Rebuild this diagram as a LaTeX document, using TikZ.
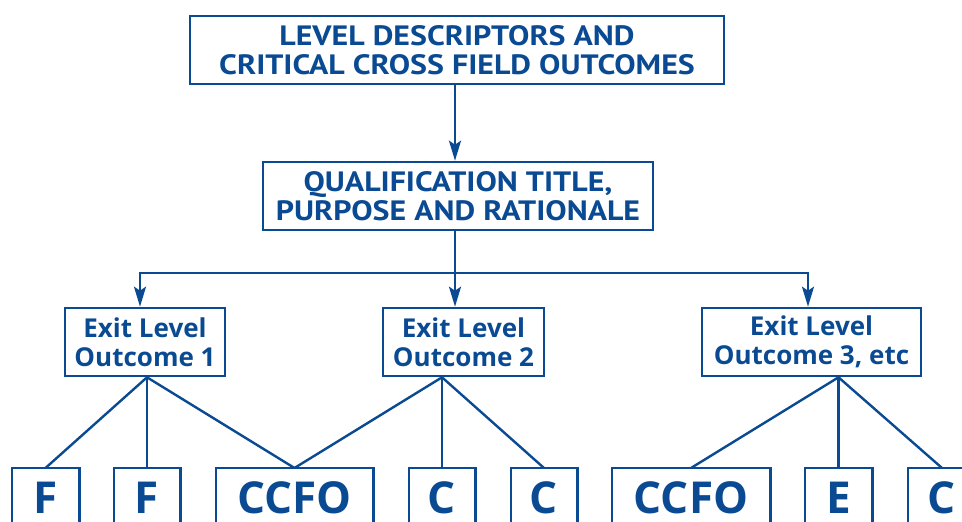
\documentclass[tikz,border=0pt]{standalone}
\usepackage{fontspec}
\setmainfont{PT Sans}
\newfontfamily\headfont{PT Sans Bold}[FakeStretch=1.14]
\newfontfamily\elofont{Open Sans}
\usetikzlibrary{arrows.meta}
\definecolor{navy}{RGB}{10,74,146}
\begin{document}
\begin{tikzpicture}[x=1pt,y=-1pt,
  box/.style={draw=navy, line width=2.6pt, text=navy, align=center, inner sep=0pt},
  headbox/.style={box, minimum height=68pt, font=\headfont\fontsize{28}{29}\selectfont},
  elobox/.style={box, minimum height=68pt, font=\elofont\bfseries\fontsize{26}{29}\selectfont},
  leaf/.style={text=navy, anchor=north, inner xsep=0pt, inner ysep=0pt, text height=45pt, text depth=7pt,
               font=\elofont\bfseries\fontsize{44}{44}\selectfont},
  leafframe/.style={draw=navy, line width=2.6pt},
  link/.style={draw=navy, line width=2.4pt},
  arr/.style={link, -{Stealth[length=20pt,width=12pt,inset=4pt]}},
]
\useasboundingbox (0,0) rectangle (962,522);
\clip (0,0) rectangle (962,522);

\node[headbox, minimum width=534pt] (top) at (457,50) {LEVEL DESCRIPTORS AND\\CRITICAL CROSS FIELD OUTCOMES};
\node[headbox, minimum width=390pt] (qual) at (458,196) {QUALIFICATION TITLE,\\PURPOSE AND RATIONALE};

\node[elobox, minimum width=160pt] (elo1) at (145,342) {Exit Level\\Outcome 1};
\node[elobox, minimum width=161pt] (elo2) at (463.5,342) {Exit Level\\Outcome 2};
\node[elobox, minimum width=219pt] (elo3) at (811.5,342) {Exit Level\\Outcome 3, etc};

\node[leaf, minimum width=67pt]  (f1)  at (45.5,468)  {F};
\node[leaf, minimum width=66pt]  (f2)  at (147,468)   {F};
\node[leaf, minimum width=157pt] (cc1) at (294.5,468) {CCFO};
\node[leaf, minimum width=66pt]  (c1)  at (442,468)   {C};
\node[leaf, minimum width=66pt]  (c2)  at (544,468)   {C};
\node[leaf, minimum width=158pt] (cc2) at (691,468)   {CCFO};
\node[leaf, minimum width=67pt]  (e1)  at (838.5,468) {E};
\node[leaf, minimum width=68pt]  (c3)  at (942,468)   {C};
\foreach \n in {f1,f2,cc1,c1,c2,cc2,e1,c3}
  \draw[leafframe] ([yshift=-60pt]\n.south west) -- (\n.north west) -- (\n.north east) -- ([yshift=-60pt]\n.south east);

% arrows
\draw[arr] (top.south -| 455,0) -- (qual.north -| 455,0);
\coordinate (bar) at (455,273);
\draw[link] (qual.south -| bar) -- (bar);
\draw[arr] (bar) -- (elo2.north -| bar);
\draw[arr] (bar) -| ([xshift=-5pt]elo1.north);
\draw[arr] (bar) -| ([xshift=-3.5pt]elo3.north);

% tree lines
\coordinate (a1) at (elo1.south -| f2.north);
\coordinate (a2) at (elo2.south -| c1.north);
\coordinate (a3) at (elo3.south -| e1.north);
\draw[link] (f1.north) -- (a1) -- (cc1.north);
\draw[link] (f2.north) -- (a1);
\draw[link] (cc1.north) -- (a2) -- (c2.north);
\draw[link] (c1.north) -- (a2);
\draw[link] (cc2.north) -- (a3) -- (c3.north);
\draw[link] (e1.north) -- (a3);
\end{tikzpicture}
\end{document}
